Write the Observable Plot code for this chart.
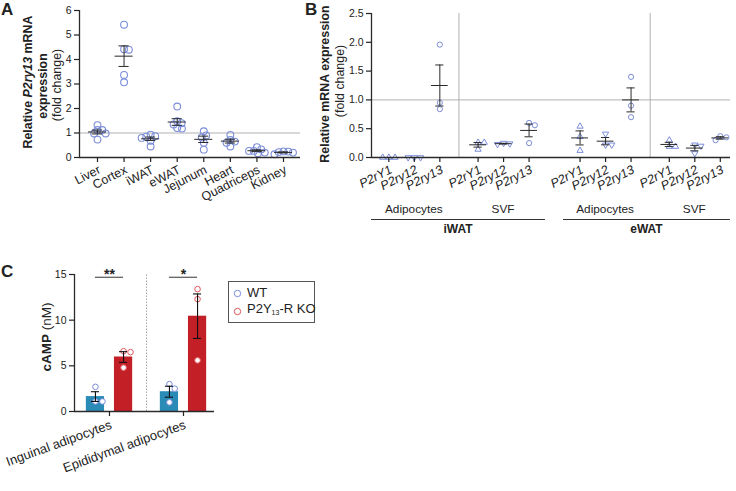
<!DOCTYPE html>
<html><head><meta charset="utf-8">
<script src="https://cdn.jsdelivr.net/npm/d3@7"></script>
<script src="https://cdn.jsdelivr.net/npm/@observablehq/plot@0.6"></script>
<style>
body{margin:0;background:#fff;font-family:"Liberation Sans",Arial,Helvetica,sans-serif;color:#222}
#root{position:relative;width:736px;height:491px;overflow:hidden;background:#fff}
#root svg{position:absolute}
.rot{position:absolute;transform:translate(-50%,-50%) rotate(-90deg);white-space:nowrap;font-size:12.4px;line-height:1}
.lbl{position:absolute;transform:translate(-50%,-50%);white-space:nowrap;font-size:12px;line-height:1}
.letter{position:absolute;font-weight:bold;font-size:17px;line-height:1}
.hline{position:absolute;height:0;border-top:1.4px solid #333}
.pA g[aria-label="y-axis tick label"], .pB g[aria-label="y-axis tick label"], .pC g[aria-label="y-axis tick label"]{font-size:10.5px}
.pA g[aria-label="x-axis tick label"]{font-size:12.5px}
.pB g[aria-label="x-axis tick label"]{font-size:12.5px}
.pC g[aria-label="x-axis tick label"]{font-size:13px}
.pC g[aria-label="text"]{font-size:14px}
</style></head><body><div id="root"></div>
<script>
// ---------- DATA ----------
// Panel A: relative P2ry13 mRNA (fold change)
const tissues = ["Liver","Cortex","iWAT","eWAT","Jejunum","Heart","Quadriceps","Kidney"];
const liver = [1.32,1.12,1.12,0.98,0.98,0.73];
const cortex = [5.42,4.42,4.40,3.37,3.07];
const iwat = [0.93,0.87,0.85,0.80,0.68,0.45];
const ewat = [2.08,1.48,1.40,1.35,1.20,1.18];
const jejunum = [1.07,0.90,0.82,0.60,0.32];
const heart = [0.92,0.72,0.65,0.60,0.45];
const quadriceps = [0.42,0.33,0.27,0.27,0.20,0.17];
const kidney = [0.25,0.24,0.22,0.20,0.13];
const valuesA = [liver,cortex,iwat,ewat,jejunum,heart,quadriceps,kidney];

// Panel B: relative mRNA expression
const genes = ["P2rY1","P2ry12","P2ry13"];
const cellTypes = ["Adipocytes","SVF","Adipocytes","SVF"];
const depots = ["iWAT","eWAT"];
const iwatAdipo = [[0,0,0],[0,0,0],[1.96,0.95,0.84]];
const iwatSVF = [[0.26,0.26,0.14],[0.25,0.24,0.23],[0.60,0.56,0.25]];
const ewatAdipo = [[0.54,0.36,0.12],[0.41,0.22,0.22],[1.40,0.90,0.70]];
const ewatSVF = [[0.30,0.19,0.19],[0.22,0.20,0.07],[0.37,0.35,0.30]];
const valuesB = [iwatAdipo,iwatSVF,ewatAdipo,ewatSVF];

// Panel C: cAMP (nM)
const tissuesC = ["Inguinal adipocytes","Epididymal adipocytes"];
const genotypes = ["WT","P2Y13-R KO"];
const wtC = [[2.7,1.1,1.1],[3.0,2.5,1.0]];
const koC = [[6.6,6.5,4.8],[13.4,12.3,5.6]];
const sigC = ["**","*"];

// ---------- STYLE ----------
const FONT = '"Liberation Sans", Arial, Helvetica, sans-serif';
const BLUE="#7b8dd8", RED="#e0585d", WTBAR="#2b8bb7", KOBAR="#c21f27", DARK="#2a2a2a", GRID="#a8a8a8";
const baseStyle = {fontFamily:FONT, fontSize:"11px", color:"#222", background:"transparent", overflow:"visible"};
const root = document.getElementById("root");

function swarm(vals, pxY, D){
  const placed=[], out=new Array(vals.length);
  const order=d3.range(vals.length).sort((a,b)=>vals[b]-vals[a]);
  let side=1;
  for(const i of order){
    const y=vals[i]*pxY;
    const c=[0];
    for(const p of placed){const dy=Math.abs(p.y-y); if(dy<D){const dx=Math.sqrt(D*D-dy*dy); c.push(p.x+dx,p.x-dx);}}
    c.sort((a,b)=>Math.abs(a)-Math.abs(b) || (side*(b-a)));
    const x=c.find(cx=>placed.every(p=>(p.x-cx)**2+(p.y-y)**2>=D*D-1e-6));
    if(x!==0) side=-side;
    placed.push({x,y}); out[i]=x;
  }
  return out;
}
function summ(vals){const m=d3.mean(vals), s=d3.deviation(vals)/Math.sqrt(vals.length); return {m, lo:m-s, hi:m+s};}

// ---------- PANEL A ----------
const A={w:310,h:200,ml:79,mr:10,mt:10,mb:43,x0:-0.677,x1:7.64,y0:0,y1:6};
const pxAx=(A.w-A.ml-A.mr)/(A.x1-A.x0), pxAy=(A.h-A.mt-A.mb)/(A.y1-A.y0);
const ptsA=[], sumA=[];
valuesA.forEach((vals,i)=>{
  const off=swarm(vals,pxAy,4.8);
  vals.forEach((v,j)=>ptsA.push({x:i+off[j]/pxAx, v}));
  sumA.push({i,...summ(vals)});
});
const plotA = Plot.plot({
  className:"pA",
  width:A.w, height:A.h, marginLeft:A.ml, marginRight:A.mr, marginTop:A.mt, marginBottom:A.mb,
  x:{domain:[A.x0,A.x1]}, y:{domain:[A.y0,A.y1]}, style:baseStyle,
  marks:[
    Plot.ruleY([1],{stroke:GRID,strokeWidth:0.9}),
    Plot.dot(ptsA,{x:"x",y:"v",r:3.4,stroke:BLUE,strokeWidth:1.1,fill:"none"}),
    Plot.ruleY(sumA,{y:"m",x1:d=>d.i-0.34,x2:d=>d.i+0.34,stroke:DARK,strokeWidth:1}),
    Plot.ruleX(sumA,{x:"i",y1:"lo",y2:"hi",stroke:DARK,strokeWidth:1}),
    Plot.ruleY(sumA,{y:"lo",x1:d=>d.i-0.19,x2:d=>d.i+0.19,stroke:DARK,strokeWidth:1}),
    Plot.ruleY(sumA,{y:"hi",x1:d=>d.i-0.19,x2:d=>d.i+0.19,stroke:DARK,strokeWidth:1}),
    Plot.ruleX([A.x0],{y1:A.y0,y2:A.y1,stroke:DARK,strokeWidth:1.3}),
    Plot.ruleY([0],{stroke:DARK,strokeWidth:1.3}),
    Plot.axisY({ticks:d3.range(0,7),tickFormat:d3.format("d"),tickSize:5,tickPadding:3,label:null,strokeWidth:1.2}),
    Plot.axisX({ticks:d3.range(tissues.length),tickFormat:i=>tissues[i],tickRotate:-27,textAnchor:"end",lineAnchor:"top",tickSize:5,tickPadding:2,label:null,strokeWidth:1.2})
  ]
});
plotA.style.left="0px"; plotA.style.top="0px"; root.appendChild(plotA);

// ---------- PANEL B ----------
const B={w:436,h:200,ml:71,mr:6,mt:13,mb:43,x0:-0.68,x1:13.4,y0:0,y1:2.5};
const groupStart=[0,3.5,7.5,11];
const pxBx=(B.w-B.ml-B.mr)/(B.x1-B.x0), pxBy=(B.h-B.mt-B.mb)/(B.y1-B.y0);
const ptsB=[], sumB=[], ticksB=[];
valuesB.forEach((grp,g)=>grp.forEach((vals,k)=>{
  const pos=groupStart[g]+k; ticksB.push({pos,label:genes[k]});
  const off=swarm(vals,pxBy,6.2);
  vals.forEach((v,j)=>ptsB.push({x:pos+off[j]/pxBx, v, gene:genes[k]}));
  sumB.push({i:pos,...summ(vals)});
}));
const sepB=[(groupStart[0]+2+groupStart[1])/2,(groupStart[2]+2+groupStart[3])/2];
const plotB = Plot.plot({
  className:"pB",
  width:B.w, height:B.h, marginLeft:B.ml, marginRight:B.mr, marginTop:B.mt, marginBottom:B.mb,
  x:{domain:[B.x0,B.x1]}, y:{domain:[B.y0,B.y1]}, style:baseStyle,
  marks:[
    Plot.ruleY([1],{stroke:GRID,strokeWidth:0.9}),
    Plot.ruleX(sepB,{y1:B.y0,y2:B.y1,stroke:GRID,strokeWidth:0.9}),
    Plot.dot(ptsB.filter(d=>d.gene==="P2rY1"),{x:"x",y:"v",symbol:"triangle",r:2.3,stroke:BLUE,strokeWidth:1,fill:"none"}),
    Plot.dot(ptsB.filter(d=>d.gene==="P2ry12"),{x:"x",y:"v",symbol:"triangle",rotate:180,r:2.3,stroke:BLUE,strokeWidth:1,fill:"none"}),
    Plot.dot(ptsB.filter(d=>d.gene==="P2ry13"),{x:"x",y:"v",symbol:"circle",r:2.6,stroke:BLUE,strokeWidth:1,fill:"none"}),
    Plot.ruleY(sumB,{y:"m",x1:d=>d.i-0.33,x2:d=>d.i+0.33,stroke:DARK,strokeWidth:1}),
    Plot.ruleX(sumB,{x:"i",y1:"lo",y2:"hi",stroke:DARK,strokeWidth:1}),
    Plot.ruleY(sumB,{y:"lo",x1:d=>d.i-0.16,x2:d=>d.i+0.16,stroke:DARK,strokeWidth:1}),
    Plot.ruleY(sumB,{y:"hi",x1:d=>d.i-0.16,x2:d=>d.i+0.16,stroke:DARK,strokeWidth:1}),
    Plot.ruleX([B.x0],{y1:B.y0,y2:B.y1,stroke:DARK,strokeWidth:1.3}),
    Plot.ruleY([0],{stroke:DARK,strokeWidth:1.3}),
    Plot.axisY({ticks:d3.range(0,2.51,0.5),tickFormat:d3.format(".1f"),tickSize:5,tickPadding:3,label:null,strokeWidth:1.2}),
    Plot.axisX({ticks:ticksB.map(d=>d.pos),tickFormat:p=>ticksB.find(d=>d.pos===p).label,tickRotate:-27,textAnchor:"end",lineAnchor:"top",fontStyle:"italic",tickSize:5,tickPadding:2,label:null,strokeWidth:1.2})
  ]
});
plotB.style.left="300px"; plotB.style.top="0px"; root.appendChild(plotB);

// Group labels under B through B's x scale
const sxB=plotB.scale("x");
const bx=v=>300+sxB.apply(v);
function addLbl(text,x,y,extra){const d=document.createElement("div");d.className="lbl";d.style.left=x+"px";d.style.top=y+"px";d.innerHTML=text;if(extra)Object.assign(d.style,extra);root.appendChild(d);}
cellTypes.forEach((c,g)=>addLbl(c,bx(groupStart[g]+1),210,{fontSize:"11.8px"}));
const mid23=(groupStart[1]+2+groupStart[2])/2;
const depotRanges=[[B.x0,mid23-0.35],[mid23+0.35,B.x1]];
depotRanges.forEach(([a,b],k)=>{
  const l=document.createElement("div");l.className="hline";l.style.left=bx(a)+"px";l.style.width=(bx(b)-bx(a))+"px";l.style.top="219px";root.appendChild(l);
  addLbl(depots[k],(bx(a)+bx(b))/2,229,{fontWeight:"bold",fontSize:"12px"});
});

// ---------- PANEL C ----------
const C={w:230,h:229,ml:74,mr:16,mt:12,mb:80,x0:-0.473,x1:1.419,y0:0,y1:15};
const pxCx=(C.w-C.ml-C.mr)/(C.x1-C.x0), pxCy=(C.h-C.mt-C.mb)/(C.y1-C.y0);
const barsC=[], ptsC=[];
[wtC,koC].forEach((arr,gi)=>arr.forEach((vals,t)=>{
  const c=t+(gi===0?-0.19:0.19);
  const s=summ(vals);
  barsC.push({c,geno:genotypes[gi],...s});
  const off=swarm(vals,pxCy,7);
  vals.forEach((v,j)=>ptsC.push({x:c+off[j]/pxCx,v,geno:genotypes[gi]}));
}));
const sigData=sigC.map((s,t)=>({t,s,y:14.7}));
const plotC = Plot.plot({
  className:"pC",
  width:C.w, height:C.h, marginLeft:C.ml, marginRight:C.mr, marginTop:C.mt, marginBottom:C.mb,
  x:{domain:[C.x0,C.x1]}, y:{domain:[C.y0,C.y1]}, style:baseStyle,
  color:{domain:genotypes, range:[WTBAR,KOBAR]},
  marks:[
    Plot.ruleX([0.5],{y1:C.y0,y2:C.y1,stroke:GRID,strokeWidth:1,strokeDasharray:"1.5,1.5"}),
    Plot.rectY(barsC,{x1:d=>d.c-0.123,x2:d=>d.c+0.123,y1:0,y2:"m",fill:"geno"}),
    Plot.dot(ptsC,{x:"x",y:"v",r:2.8,fill:"white",stroke:d=>d.geno==="WT"?BLUE:RED,strokeWidth:1}),
    Plot.ruleX(barsC,{x:"c",y1:"lo",y2:"hi",stroke:"#111",strokeWidth:1.1}),
    Plot.ruleY(barsC,{y:"lo",x1:d=>d.c-0.055,x2:d=>d.c+0.055,stroke:"#111",strokeWidth:1.1}),
    Plot.ruleY(barsC,{y:"hi",x1:d=>d.c-0.055,x2:d=>d.c+0.055,stroke:"#111",strokeWidth:1.1}),
    Plot.ruleY(sigData,{y:"y",x1:d=>d.t-0.19,x2:d=>d.t+0.19,stroke:"#333",strokeWidth:1}),
    Plot.text(sigData,{x:"t",y:"y",text:"s",fontWeight:"bold",dy:-3,lineAnchor:"middle"}),
    Plot.ruleX([C.x0],{y1:C.y0,y2:C.y1,stroke:DARK,strokeWidth:1.3}),
    Plot.ruleY([0],{stroke:DARK,strokeWidth:1.3}),
    Plot.axisY({ticks:[0,5,10,15],tickSize:5,tickPadding:3,label:null,strokeWidth:1.2}),
    Plot.axisX({ticks:[0,1],tickFormat:t=>tissuesC[t],tickRotate:-20,textAnchor:"end",lineAnchor:"top",tickSize:5,tickPadding:3,label:null,strokeWidth:1.2})
  ]
});
plotC.style.left="0px"; plotC.style.top="262px"; root.appendChild(plotC);

// ---------- TEXT LABELS ----------
function addRot(html,x,y,extra){const d=document.createElement("div");d.className="rot";d.style.left=x+"px";d.style.top=y+"px";d.innerHTML=html;if(extra)Object.assign(d.style,extra);root.appendChild(d);}
addRot("<b>Relative <i>P2ry13</i> mRNA</b>",28,82);
addRot("<b>expression</b>",43,86);
addRot("(fold change)",57,85);
addRot("<b>Relative mRNA expression</b>",325,84);
addRot("(fold change)",340,81);
addRot("<b>cAMP</b> (nM)",47,337,{fontSize:"13.5px"});
[["A",1,1],["B",305,1],["C",1,263]].forEach(([t,x,y])=>{const d=document.createElement("div");d.className="letter";d.textContent=t;d.style.left=x+"px";d.style.top=y+"px";root.appendChild(d);});

// Legend C
const lg=document.createElement("div");
Object.assign(lg.style,{position:"absolute",left:"228px",top:"281px",width:"87px",height:"42px",border:"1px solid #555",boxSizing:"border-box",fontSize:"13px"});
const items=[{label:"WT",c:BLUE},{label:"P2Y<sub style='font-size:7px;vertical-align:-2px'>13</sub>-R KO",c:RED}];
items.forEach((it,k)=>{
  const row=document.createElement("div");
  Object.assign(row.style,{position:"absolute",left:"4px",top:(4+k*18)+"px",height:"14px",display:"flex",alignItems:"center",whiteSpace:"nowrap",lineHeight:"14px"});
  row.innerHTML=`<svg width="9" height="9" style="position:static;margin-right:5px"><circle cx="4.5" cy="4.5" r="3.2" fill="none" stroke="${it.c}" stroke-width="1"/></svg><span>${it.label}</span>`;
  lg.appendChild(row);
});
root.appendChild(lg);
</script></body></html>
